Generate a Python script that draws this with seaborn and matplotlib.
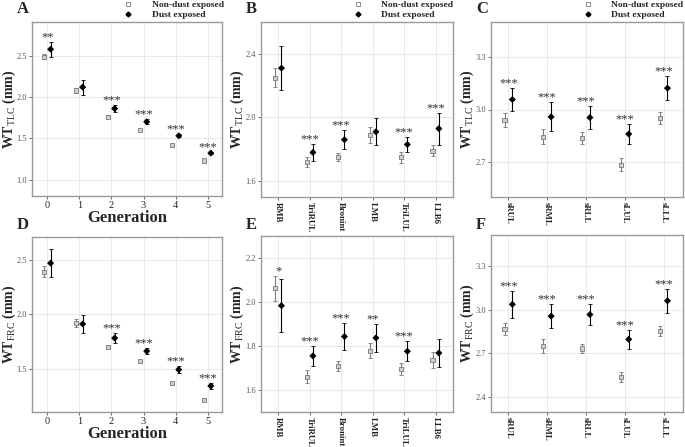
import numpy as np
import pandas as pd
import matplotlib.pyplot as plt
import seaborn as sns
from matplotlib.lines import Line2D

# Airway wall thickness (WT, mm): non-dust vs dust exposed, mean and error
generations = ['0', '1', '2', '3', '4', '5']
airways = ['RMB', 'TriRUL', 'Bronint', 'LMB', 'TriLUL', 'LLB6']
segments = ['sRUL', 'sRML', 'sRLL', 'sLUL', 'sLLL']

# A: TLC by generation
a_non = [2.49, 2.08, 1.76, 1.60, 1.42, 1.23]
a_non_err = [0.03, 0.03, 0.02, 0.01, 0.01, 0.01]
a_dust = [2.58, 2.12, 1.86, 1.70, 1.53, 1.32]
a_dust_err = [0.09, 0.09, 0.04, 0.03, 0.02, 0.015]
a_sig = ['**', '', '***', '***', '***', '***']

# B: TLC by central airway
b_non = [2.25, 1.72, 1.75, 1.89, 1.75, 1.79]
b_non_err = [0.06, 0.03, 0.025, 0.05, 0.035, 0.035]
b_dust = [2.31, 1.78, 1.86, 1.91, 1.83, 1.93]
b_dust_err = [0.14, 0.055, 0.06, 0.085, 0.05, 0.10]
b_sig = ['', '***', '***', '', '***', '***']

# C: TLC by segment
c_non = [2.94, 2.845, 2.838, 2.685, 2.952]
c_non_err = [0.04, 0.044, 0.035, 0.035, 0.035]
c_dust = [3.057, 2.958, 2.954, 2.86, 3.122]
c_dust_err = [0.064, 0.083, 0.064, 0.059, 0.07]
c_sig = ['***', '***', '***', '***', '***']

# D: FRC by generation
d_non = [2.39, 1.92, 1.70, 1.57, 1.37, 1.21]
d_non_err = [0.05, 0.04, 0.015, 0.01, 0.01, 0.01]
d_dust = [2.47, 1.91, 1.78, 1.66, 1.49, 1.34]
d_dust_err = [0.13, 0.08, 0.045, 0.03, 0.03, 0.03]
d_sig = ['', '', '***', '***', '***', '***']

# E: FRC by central airway
e_non = [2.063, 1.66, 1.71, 1.778, 1.694, 1.736]
e_non_err = [0.057, 0.03, 0.024, 0.034, 0.028, 0.038]
e_dust = [1.983, 1.755, 1.843, 1.837, 1.776, 1.768]
e_dust_err = [0.12, 0.045, 0.063, 0.064, 0.046, 0.064]
e_sig = ['*', '***', '***', '**', '***', '']

# F: FRC by segment
f_non = [2.866, 2.75, 2.734, 2.54, 2.855]
f_non_err = [0.042, 0.046, 0.034, 0.034, 0.033]
f_dust = [3.036, 2.955, 2.966, 2.797, 3.06]
f_dust_err = [0.09, 0.082, 0.072, 0.065, 0.084]
f_sig = ['***', '***', '***', '***', '***']

sns.set_style('white')
plt.rcParams['font.family'] = ['Liberation Serif', 'DejaVu Serif']
plt.rcParams['mathtext.fontset'] = 'custom'
plt.rcParams['mathtext.rm'] = 'Liberation Serif'
plt.rcParams['mathtext.bf'] = 'Liberation Serif:bold'

W, H = 685, 447
fig = plt.figure(figsize=(W / 100, H / 100), dpi=100)


def px_axes(left, top, right, bottom):
    return fig.add_axes([left / W, 1 - bottom / H, (right - left) / W, (bottom - top) / H])


NON_C = '#7a7a7a'
DUST_C = '#000000'
DODGE = 0.1


def panel(ax, cats, non, non_err, dust, dust_err, sig, ylim, yticks, sub,
          xlim, rotate, xlabel=None, legend=False):
    n = len(cats)
    idx = np.arange(n)
    df = pd.DataFrame({
        'pos': np.concatenate([idx - DODGE, idx + DODGE]),
        'mean': non + dust,
        'err': non_err + dust_err,
        'group': ['Non-dust exposed'] * n + ['Dust exposed'] * n,
    })
    for grp, col in [('Non-dust exposed', NON_C), ('Dust exposed', DUST_C)]:
        sub_df = df[df['group'] == grp]
        ax.errorbar(sub_df['pos'], sub_df['mean'], yerr=sub_df['err'], fmt='none',
                    ecolor=col, elinewidth=0.8, capsize=1.5, capthick=0.6, zorder=2)
    sns.scatterplot(data=df, x='pos', y='mean', hue='group', style='group',
                    markers={'Non-dust exposed': 's', 'Dust exposed': 'D'},
                    palette={'Non-dust exposed': '#cfcfcf', 'Dust exposed': DUST_C},
                    s=9, linewidth=0.6, edgecolor=[NON_C] * n + [DUST_C] * n,
                    legend=False, ax=ax, zorder=3)
    # significance stars above the higher error bar
    for i, s in enumerate(sig):
        if s:
            top = max(non[i] + non_err[i], dust[i] + dust_err[i])
            ax.annotate(s, (i, top), xytext=(0, -1), textcoords='offset points',
                        ha='center', va='bottom', fontsize=9, color='#333333')
    ax.set_xlim(*xlim)
    ax.set_ylim(*ylim)
    ax.set_xticks(idx)
    ax.set_yticks(yticks)
    ax.set_yticklabels([f'{t:.1f}' for t in yticks])
    if rotate:
        ax.set_xticklabels(cats, rotation=-90, fontsize=6.3, fontweight='bold', color='#222222')
    else:
        ax.set_xticklabels(cats, fontsize=7.5, color='#222222')
    ax.tick_params(axis='y', labelsize=6, labelcolor='#555555', length=2, width=0.6,
                   color='#555555', pad=1.5, left=True)
    ax.tick_params(axis='x', length=2, width=0.6, color='#555555', pad=1.5, bottom=True)
    ax.grid(True, color='#e6e6e6', linewidth=0.6)
    ax.set_axisbelow(True)
    for sp in ax.spines.values():
        sp.set_color('#9a9a9a')
        sp.set_linewidth(1.0)
    ax.set_ylabel(r'WT$_{\mathrm{' + sub + r'}}$ (mm)', fontsize=10, fontweight='bold')
    ax.yaxis.set_label_coords(-0.076, 0.5)
    if xlabel:
        ax.set_xlabel(xlabel, fontsize=12, fontweight='bold', labelpad=0)
    else:
        ax.set_xlabel('')
    if legend:
        handles = [
            Line2D([], [], marker='s', linestyle='none', markersize=3, markerfacecolor='white',
                   markeredgecolor=NON_C, markeredgewidth=0.6),
            Line2D([], [], marker='D', linestyle='none', markersize=2.5, color=DUST_C),
        ]
        ax.legend(handles, ['Non-dust exposed', 'Dust exposed'], loc='lower left',
                  bbox_to_anchor=(0.48, 1.015), frameon=False, borderaxespad=0, borderpad=0,
                  handlelength=1.0, handletextpad=2.0, labelspacing=0.15,
                  prop={'family': 'Liberation Serif', 'weight': 'bold', 'size': 6.8})


ax_a = px_axes(32, 22, 222, 196)
ax_b = px_axes(261, 22, 453, 197)
ax_c = px_axes(491, 22, 683, 197)
ax_d = px_axes(32, 237, 222, 412)
ax_e = px_axes(261, 236, 453, 412)
ax_f = px_axes(491, 235, 683, 412)

panel(ax_a, generations, a_non, a_non_err, a_dust, a_dust_err, a_sig,
      (0.8, 2.91), [1.0, 1.5, 2.0, 2.5], 'TLC', (-0.48, 5.45), False,
      xlabel='Generation', legend=True)
panel(ax_b, airways, b_non, b_non_err, b_dust, b_dust_err, b_sig,
      (1.5, 2.6), [1.6, 2.0, 2.4], 'TLC', (-0.55, 5.55), True, legend=True)
panel(ax_c, segments, c_non, c_non_err, c_dust, c_dust_err, c_sig,
      (2.5, 3.5), [2.7, 3.0, 3.3], 'TLC', (-0.45, 4.5), True, legend=True)
panel(ax_d, generations, d_non, d_non_err, d_dust, d_dust_err, d_sig,
      (1.1, 2.71), [1.5, 2.0, 2.5], 'FRC', (-0.48, 5.45), False, xlabel='Generation')
panel(ax_e, airways, e_non, e_non_err, e_dust, e_dust_err, e_sig,
      (1.5, 2.3), [1.6, 1.8, 2.0, 2.2], 'FRC', (-0.55, 5.55), True)
panel(ax_f, segments, f_non, f_non_err, f_dust, f_dust_err, f_sig,
      (2.3, 3.51), [2.4, 2.7, 3.0, 3.3], 'FRC', (-0.45, 4.5), True)

# panel letters
for letter, x, y in [('A', 17, 9), ('B', 246, 9), ('C', 476, 9),
                     ('D', 17, 225), ('E', 246, 225), ('F', 476, 225)]:
    fig.text(x / W, 1 - y / H, letter, fontsize=12, fontweight='bold', va='center', ha='left')

fig.savefig('out.png', dpi=100)
